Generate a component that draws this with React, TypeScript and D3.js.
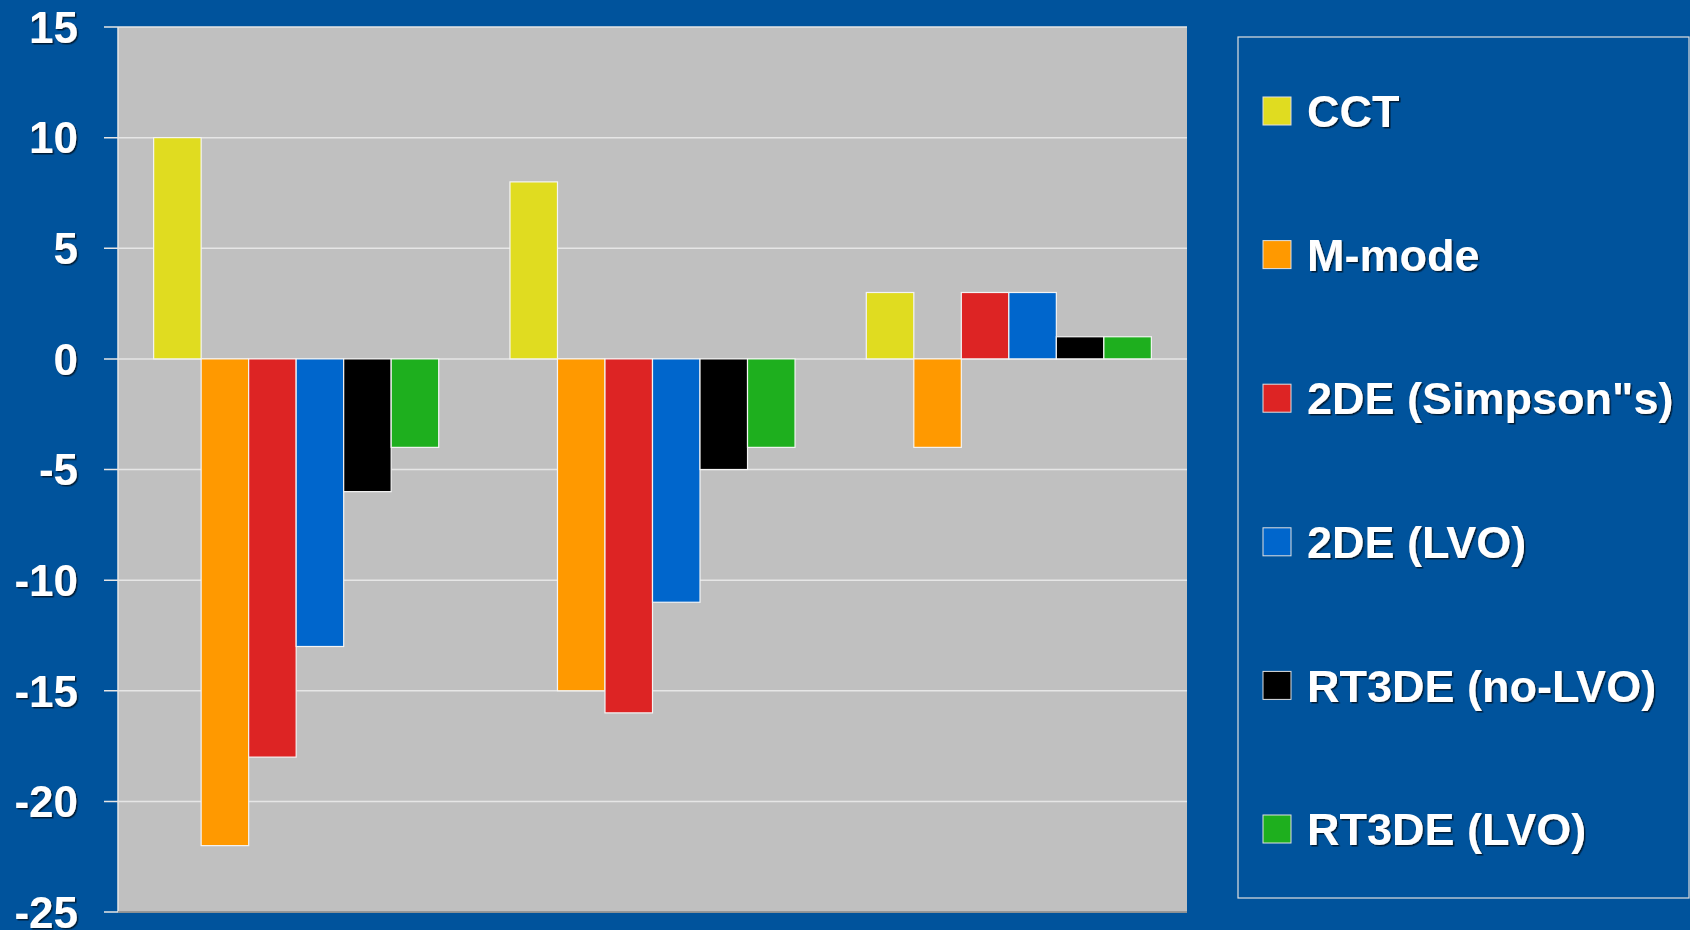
import React from "react";
import * as d3 from "d3";

const categories = ["Group 1", "Group 2", "Group 3"];
const seriesNames = ["CCT", "M-mode", "2DE (Simpson\"s)", "2DE (LVO)", "RT3DE (no-LVO)", "RT3DE (LVO)"];
const seriesColors = ["#E0DC20", "#FF9900", "#DD2424", "#0066CC", "#000000", "#1EAF1E"];
const cct = [10, 8, 3];
const mmode = [-22, -15, -4];
const simpson = [-18, -16, 3];
const lvo2de = [-13, -11, 3];
const rt3deNoLvo = [-6, -5, 1];
const rt3deLvo = [-4, -4, 1];
const yTicks = [15, 10, 5, 0, -5, -10, -15, -20, -25];

const seriesValues = [cct, mmode, simpson, lvo2de, rt3deNoLvo, rt3deLvo];

const W = 1690;
const H = 930;
const plot = { left: 118, right: 1187, top: 27, bottom: 912 };
const BG = "#00539C";
const FONT = "'Liberation Sans', Arial, sans-serif";

export default function App() {
  const x0 = d3.scaleBand<string>().domain(categories).range([plot.left, plot.right]).paddingInner(0.2).paddingOuter(0.1);
  const x1 = d3.scaleBand<string>().domain(seriesNames).range([0, x0.bandwidth()]);
  const y = d3.scaleLinear().domain([-25, 15]).range([plot.bottom, plot.top]);

  const legend = { x: 1238, y: 37, w: 451, h: 861 };
  const legendY = d3.scalePoint<string>().domain(seriesNames).range([111, 829]);

  return (
    <svg width={W} height={H} style={{ position: "absolute", left: 0, top: 0, display: "block" }}>
      <defs>
        <filter id="ts" x="-10%" y="-10%" width="130%" height="130%">
          <feDropShadow dx="1.5" dy="1.5" stdDeviation="0.4" floodColor="#00142e" floodOpacity="0.9" />
        </filter>
      </defs>
      <rect x={0} y={0} width={W} height={H} fill={BG} />
      <rect x={plot.left} y={plot.top} width={plot.right - plot.left} height={plot.bottom - plot.top} fill="#C0C0C0" />
      {yTicks.map((t) => (
        <g key={t}>
          <line x1={plot.left - 14} x2={plot.right} y1={y(t)} y2={y(t)} stroke="#E6E6E6" strokeWidth={1.5} />
          <text
            x={78}
            y={y(t)}
            dy="0.36em"
            textAnchor="end"
            fill="#FFFFFF"
            fontFamily={FONT}
            fontWeight="bold"
            fontSize={44}
            filter="url(#ts)"
          >
            {t}
          </text>
        </g>
      ))}
      <line x1={plot.left} x2={plot.left} y1={plot.top} y2={plot.bottom} stroke="#E6E6E6" strokeWidth={1.5} />
      <line x1={plot.left} x2={plot.right} y1={plot.bottom} y2={plot.bottom} stroke="#808080" strokeWidth={1.5} />
      {categories.map((c, ci) => (
        <g key={c} transform={`translate(${x0(c)},0)`}>
          {seriesNames.map((s, si) => {
            const v = seriesValues[si][ci];
            const yA = y(Math.max(0, v));
            const yB = y(Math.min(0, v));
            return (
              <rect
                key={s}
                x={x1(s)}
                y={yA}
                width={x1.bandwidth()}
                height={yB - yA}
                fill={seriesColors[si]}
                stroke="#F4F4F4"
                strokeWidth={1.2}
              />
            );
          })}
        </g>
      ))}
      <rect x={legend.x} y={legend.y} width={legend.w} height={legend.h} fill={BG} stroke="#E0E0E0" strokeWidth={1.2} />
      {seriesNames.map((s, si) => {
        const cy = legendY(s) as number;
        return (
          <g key={s}>
            <rect x={1263} y={cy - 14} width={28} height={28} fill={seriesColors[si]} stroke="#E0E0E0" strokeWidth={1} />
            <text
              x={1307}
              y={cy}
              dy="0.36em"
              fill="#FFFFFF"
              fontFamily={FONT}
              fontWeight="bold"
              fontSize={45}
              filter="url(#ts)"
            >
              {s}
            </text>
          </g>
        );
      })}
    </svg>
  );
}
